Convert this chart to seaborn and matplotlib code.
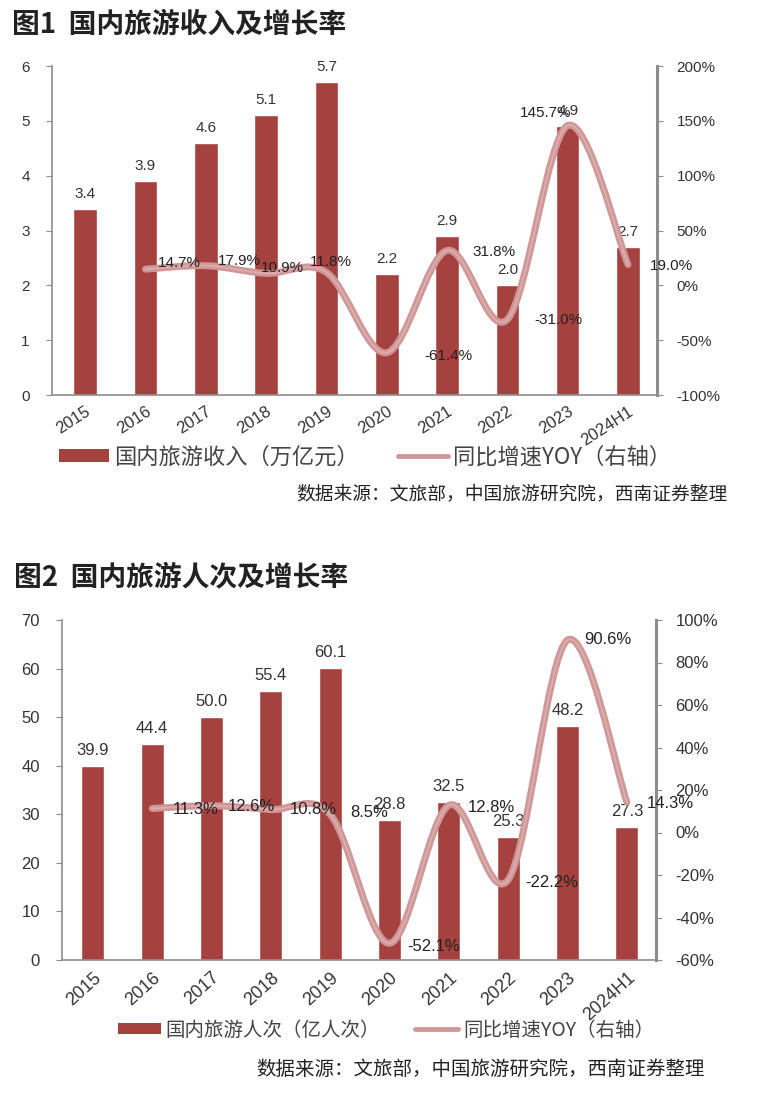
import numpy as np
import matplotlib
matplotlib.use("Agg")
import matplotlib.pyplot as plt
import seaborn as sns
from matplotlib.path import Path
from matplotlib.patches import PathPatch, Patch
from matplotlib.lines import Line2D
import matplotlib.patheffects as pe

sns.set_style("white")
plt.rcParams['font.family'] = ['Liberation Sans', 'Noto Sans CJK SC', 'DejaVu Sans']

years = ["2015", "2016", "2017", "2018", "2019", "2020", "2021", "2022", "2023", "2024H1"]

# 图1 国内旅游收入（万亿元）与同比增速（%，2016起）
income = [3.4, 3.9, 4.6, 5.1, 5.7, 2.2, 2.9, 2.0, 4.9, 2.7]
income_yoy = [14.7, 17.9, 10.9, 11.8, -61.4, 31.8, -31.0, 145.7, 19.0]

# 图2 国内旅游人次（亿人次）与同比增速（%，2016起）
trips = [39.9, 44.4, 50.0, 55.4, 60.1, 28.8, 32.5, 25.3, 48.2, 27.3]
trips_yoy = [11.3, 12.6, 10.8, 8.5, -52.1, 12.8, -22.2, 90.6, 14.3]

BAR = "#a5413f"
LINE = "#cf9797"
LINE_CORE = "#ddb0b0"
GRAY = "#8c8c8c"
TXT = "#333333"


def smooth_path(xs, ys):
    # Catmull-Rom style bezier through the points (like Excel's smoothed line)
    p = np.column_stack([xs, ys]).astype(float)
    n = len(p)
    verts = [p[0]]
    codes = [Path.MOVETO]
    for i in range(n - 1):
        p0 = p[i - 1] if i > 0 else p[i]
        p3 = p[i + 2] if i + 2 < n else p[i + 1]
        c1 = p[i] + (p[i + 1] - p0) / 6
        c2 = p[i + 1] - (p3 - p[i]) / 6
        verts += [c1, c2, p[i + 1]]
        codes += [Path.CURVE4] * 3
    return Path(verts, codes)


def draw_chart(fig, rect, bars, yoy, ylim, yticks, y2lim, y2ticks, xlim,
               fs, xfs, rot, yoy_offsets, title, title_xy, legend_labels, legend_xy,
               legend_fs, handle_len, col_space, source_xy, source_fs):
    ax = fig.add_axes(rect)
    sns.barplot(x=years, y=bars, ax=ax, color=BAR, saturation=1, width=0.39)
    ax.set_xlim(*xlim)
    ax.set_ylim(*ylim)
    ax.set_yticks(yticks)
    ax.set_xlabel("")
    ax.set_ylabel("")
    for s in ["top", "right"]:
        ax.spines[s].set_visible(False)
    for s in ["left", "bottom"]:
        ax.spines[s].set_color(GRAY)
        ax.spines[s].set_linewidth(1.2)
    ax.tick_params(axis="y", left=True, length=4, color=GRAY, labelsize=fs, labelcolor=TXT, pad=12)
    ax.tick_params(axis="x", bottom=False, labelsize=xfs, labelcolor=TXT, pad=3)
    for lab in ax.get_xticklabels():
        lab.set_rotation(rot)
        lab.set_ha("right")
        lab.set_rotation_mode("anchor")
    for i, v in enumerate(bars):
        ax.annotate(f"{v:.1f}", (i, v), xytext=(0, 8), textcoords="offset pixels",
                    ha="center", va="bottom", fontsize=fs, color=TXT)

    ax2 = ax.twinx()
    ax2.set_ylim(*y2lim)
    ax2.set_yticks(y2ticks)
    ax2.set_yticklabels([f"{t:.0f}%" for t in y2ticks])
    for s in ["top", "left", "bottom"]:
        ax2.spines[s].set_visible(False)
    ax2.spines["right"].set_color(GRAY)
    ax2.spines["right"].set_linewidth(2.2)
    ax2.tick_params(axis="y", right=True, length=4, color=GRAY, labelsize=fs, labelcolor=TXT, pad=10)
    ax2.grid(False)

    xs = np.arange(1, len(years))
    patch = PathPatch(smooth_path(xs, yoy), fill=False, ec=LINE_CORE, lw=1.2,
                      transform=ax2.transData, capstyle="round", zorder=3)
    patch.set_path_effects([pe.Stroke(linewidth=5.0, foreground=LINE, capstyle="round"), pe.Normal()])
    ax2.add_patch(patch)
    for x, v, (dx, dy) in zip(xs, yoy, yoy_offsets):
        ax2.annotate(f"{v:.1f}%", (x, v), xytext=(dx, dy), textcoords="offset pixels",
                     ha="left", va="center", fontsize=fs, color="#222222", zorder=4)

    fig.text(title_xy[0], title_xy[1], title, fontsize=20, fontweight="bold",
             family=["Noto Sans CJK SC"], color="#222222", va="center", ha="left")
    handles = [Patch(facecolor=BAR, edgecolor="none"),
               Line2D([], [], color=LINE, lw=3.5)]
    fig.legend(handles, legend_labels, loc="center", bbox_to_anchor=legend_xy, ncol=2,
               frameon=False, handlelength=handle_len, handleheight=0.5,
               handletextpad=0.25, columnspacing=col_space, labelcolor="#444444",
               prop={"family": ["Noto Sans CJK SC"], "size": legend_fs})
    fig.text(source_xy[0], source_xy[1], "数据来源：文旅部，中国旅游研究院，西南证券整理",
             fontsize=source_fs, family=["Noto Sans CJK SC"], color="#222222",
             ha="right", va="center")
    return ax, ax2


W, H = 760, 1101
fig = plt.figure(figsize=(W / 100, H / 100), dpi=100)

draw_chart(
    fig,
    rect=[52 / W, 1 - 395 / H, 605 / W, 329 / H],
    bars=income, yoy=income_yoy,
    ylim=(0, 6), yticks=range(0, 7),
    y2lim=(-100, 200), y2ticks=list(range(-100, 201, 50)),
    xlim=(-0.55, 9.48), fs=11, xfs=12, rot=33,
    yoy_offsets=[(12, 6), (12, 5), (-5, 5), (-17, 10), (38, -3), (25, -2), (27, -1), (-48, 13), (22, -2)],
    title="图1  国内旅游收入及增长率", title_xy=(12 / W, 1 - 25 / H),
    legend_labels=["国内旅游收入（万亿元）", "同比增速YOY（右轴）"],
    legend_xy=(365 / W, 1 - 457 / H), legend_fs=16, handle_len=2.25, col_space=1.75,
    source_xy=(727 / W, 1 - 494 / H), source_fs=13.5,
)

draw_chart(
    fig,
    rect=[62 / W, 1 - 960 / H, 594 / W, 340 / H],
    bars=trips, yoy=trips_yoy,
    ylim=(0, 70), yticks=range(0, 71, 10),
    y2lim=(-60, 100), y2ticks=list(range(-60, 101, 20)),
    xlim=(-0.52, 9.49), fs=12, xfs=13, rot=42,
    yoy_offsets=[(21, -1), (16, -1), (19, 0), (20, 2), (18, -3), (19, -2), (17, -3), (17, 0), (20, -1)],
    title="图2  国内旅游人次及增长率", title_xy=(14 / W, 1 - 578 / H),
    legend_labels=["国内旅游人次（亿人次）", "同比增速YOY（右轴）"],
    legend_xy=(386 / W, 1 - 1030 / H), legend_fs=14, handle_len=2.2, col_space=1.8,
    source_xy=(705 / W, 1 - 1069 / H), source_fs=14,
)

fig.savefig("out.png", dpi=100, facecolor="white")
